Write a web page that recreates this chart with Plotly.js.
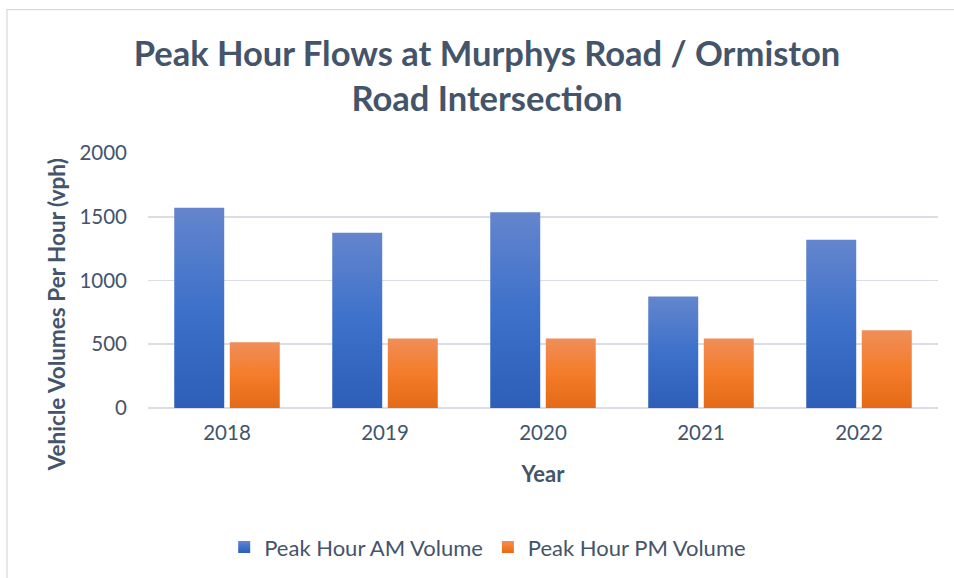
<!DOCTYPE html>
<html>
<head>
<meta charset="utf-8">
<script src="https://cdn.plot.ly/plotly-3.0.1.min.js"></script>
<style>
html,body{margin:0;padding:0;background:#fff;}
#chart{width:954px;height:578px;}
</style>
</head>
<body>
<div id="chart"></div>
<script>
const years = ['2018', '2019', '2020', '2021', '2022'];
const amVolume = [1570, 1375, 1535, 875, 1320];
const pmVolume = [515, 545, 545, 545, 610];
const yTicks = [0, 500, 1000, 1500, 2000];
const seriesNames = ['Peak Hour AM Volume', 'Peak Hour PM Volume'];

const textColor = '#44546A';
const fontFam = 'Lato, "Open Sans", sans-serif';

const traces = [
  {type: 'bar', x: years, y: amVolume, name: seriesNames[0],
   marker: {color: '#4472C4', line: {width: 0}}, hoverinfo: 'x+y'},
  {type: 'bar', x: years, y: pmVolume, name: seriesNames[1],
   marker: {color: '#ED7D31', line: {width: 0}}, hoverinfo: 'x+y'}
];

const layout = {
  width: 954, height: 578,
  paper_bgcolor: '#ffffff', plot_bgcolor: '#ffffff',
  margin: {l: 148, r: 16, t: 153, b: 169},
  font: {family: fontFam, color: textColor},
  title: {
    text: 'Peak Hour Flows at Murphys Road / Ormiston<br>Road Intersection',
    font: {family: fontFam, size: 34.5, color: textColor, weight: 'bold'},
    x: 487 / 954, xanchor: 'center', xref: 'container',
    y: 1 - 66 / 578, yanchor: 'middle', yref: 'container'
  },
  barmode: 'group', bargap: 0.297, bargroupgap: 0.1,
  xaxis: {
    type: 'category',
    showgrid: false, zeroline: false, showline: false,
    ticks: '', tickfont: {size: 20.5, color: textColor, family: fontFam},
    ticklabelstandoff: 10,
    title: {text: 'Year', font: {size: 22, color: textColor, family: fontFam, weight: 'bold'}, standoff: 24}
  },
  yaxis: {
    range: [0, 2000], tickvals: yTicks,
    showgrid: true, gridcolor: '#dadee4', gridwidth: 1.6,
    zeroline: true, zerolinecolor: '#dadee4', zerolinewidth: 1.6,
    showline: false, ticks: '',
    tickfont: {size: 20.5, color: textColor, family: fontFam},
    ticklabelstandoff: 20
  },
  annotations: [{
    text: 'Vehicle Volumes Per Hour (vph)', textangle: -90, showarrow: false,
    xref: 'paper', yref: 'paper',
    x: (56 - 148) / 790, y: (409 - 316) / 256, xanchor: 'center', yanchor: 'middle',
    font: {size: 22.5, color: textColor, family: fontFam, weight: 'bold'}
  }],
  legend: {
    orientation: 'h', x: 0.43, xanchor: 'center', y: -0.54, yanchor: 'middle',
    font: {size: 22, color: textColor, family: fontFam},
    itemsizing: 'constant', traceorder: 'normal'
  },
  shapes: [{
    type: 'rect', xref: 'paper', yref: 'paper', layer: 'below',
    x0: (7 - 148) / 790, x1: (960 - 148) / 790,
    y0: (409 - 590) / 256, y1: (409 - 9) / 256,
    line: {color: '#d9d9d9', width: 1.2}, fillcolor: 'rgba(0,0,0,0)'
  }],
  showlegend: true
};

function applyGradients(gd) {
  const svg = gd.querySelector('.main-svg');
  if (!svg) return;
  const ns = 'http://www.w3.org/2000/svg';
  let defs = svg.querySelector('defs');
  if (!defs) { defs = document.createElementNS(ns, 'defs'); svg.insertBefore(defs, svg.firstChild); }
  if (!svg.querySelector('#gBlue')) {
    const mk = (id, stops) => {
      const g = document.createElementNS(ns, 'linearGradient');
      g.setAttribute('id', id);
      g.setAttribute('x1', '0'); g.setAttribute('y1', '0');
      g.setAttribute('x2', '0'); g.setAttribute('y2', '1');
      stops.forEach(([o, c]) => {
        const s = document.createElementNS(ns, 'stop');
        s.setAttribute('offset', o); s.setAttribute('stop-color', c);
        g.appendChild(s);
      });
      defs.appendChild(g);
    };
    mk('gBlue', [['0', '#6485cd'], ['0.5', '#3d71ca'], ['1', '#2d5eb8']]);
    mk('gOrange', [['0', '#f08e59'], ['0.5', '#f47c2a'], ['1', '#e46a16']]);
  }
  const tr = gd.querySelectorAll('.barlayer .trace');
  tr.forEach((t, i) => {
    t.querySelectorAll('path').forEach(p => { p.style.fill = i === 0 ? 'url(#gBlue)' : 'url(#gOrange)'; });
  });
  const lg = gd.querySelectorAll('.legend .traces');
  lg.forEach((t, i) => {
    t.querySelectorAll('.legendpoints path').forEach(p => { p.style.fill = i === 0 ? 'url(#gBlue)' : 'url(#gOrange)'; });
  });
}

Plotly.newPlot('chart', traces, layout, {displayModeBar: false, staticPlot: true}).then(gd => {
  applyGradients(gd);
  gd.on('plotly_afterplot', () => applyGradients(gd));
});
</script>
</body>
</html>
